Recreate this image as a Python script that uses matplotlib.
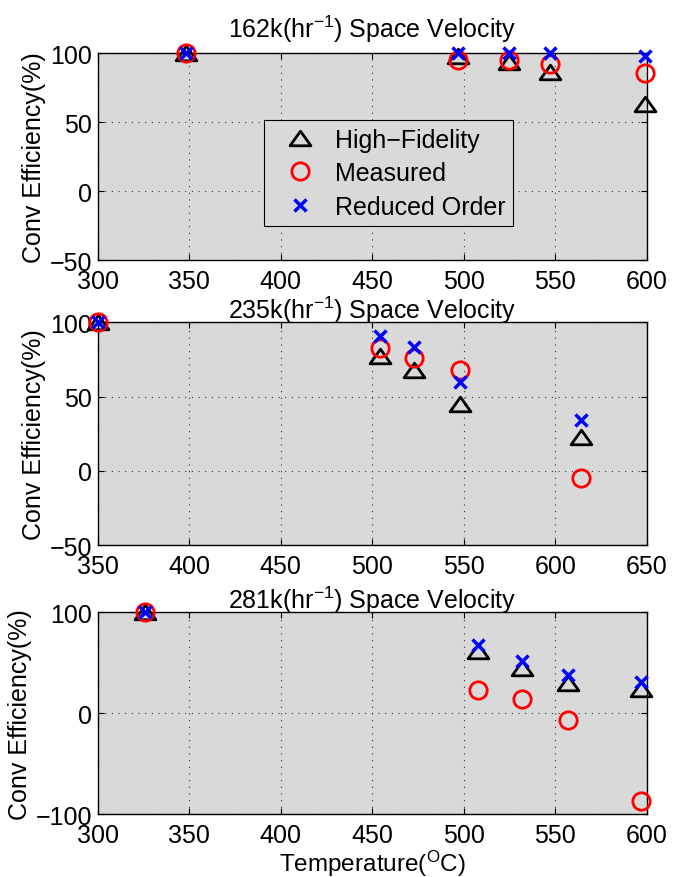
import numpy as np
import matplotlib.pyplot as plt
from matplotlib.path import Path

# ==========================================
# DATA
# ==========================================
titles = ['162k(hr$^{-1}$) Space Velocity',
          '235k(hr$^{-1}$) Space Velocity',
          '281k(hr$^{-1}$) Space Velocity']

temp_162 = [348, 497, 525, 547, 599]
hifi_162 = [100, 98, 93.5, 86.5, 63.5]
meas_162 = [100, 95.5, 95.5, 92.5, 85.5]
rom_162 = [100, 100, 100, 100, 98]

temp_235 = [350, 504, 523, 548, 614]
hifi_235 = [100, 77.5, 68, 45, 23]
meas_235 = [100, 83, 76, 68, -5]
rom_235 = [100, 91, 83.5, 60, 34]

temp_281 = [326, 508, 532, 557, 597]
hifi_281 = [100, 62, 44.5, 30, 24]
meas_281 = [100, 23, 14, -7, -87]
rom_281 = [100, 68, 52, 38, 31]

xlims = [(300, 600), (350, 650), (300, 600)]
ylims = [(-50, 100), (-50, 100), (-100, 100)]
yticks = [[-50, 0, 50, 100], [-50, 0, 50, 100], [-100, 0, 100]]

# ==========================================
# STYLE
# ==========================================
plt.rcParams['font.family'] = ['Liberation Sans', 'DejaVu Sans']
plt.rcParams['mathtext.fontset'] = 'custom'
plt.rcParams['mathtext.rm'] = 'Liberation Sans'
plt.rcParams['mathtext.it'] = 'Liberation Sans'
FS = 18

# wide MATLAB-like triangle
tri = Path([(-1, -0.7), (1, -0.7), (0, 0.7), (-1, -0.7)],
           [Path.MOVETO, Path.LINETO, Path.LINETO, Path.CLOSEPOLY])

fig = plt.figure(figsize=(6.74, 8.78), dpi=100)
positions = [[0.145, 0.7027, 0.8145, 0.2354],
             [0.145, 0.3781, 0.8145, 0.2536],
             [0.145, 0.0714, 0.8145, 0.2300]]
title_pads = [12, 3.5, 3.5]

series = [(temp_162, hifi_162, meas_162, rom_162),
          (temp_235, hifi_235, meas_235, rom_235),
          (temp_281, hifi_281, meas_281, rom_281)]

for i, (T, hf, ms, ro) in enumerate(series):
    ax = fig.add_axes(positions[i])
    ax.set_facecolor('#d9d9d9')
    ax.plot(T, hf, linestyle='none', marker=tri, markersize=15,
            markerfacecolor='none', markeredgecolor='black', mew=2,
            label='High\u2212Fidelity', clip_on=False, zorder=3)
    ax.plot(T, ms, linestyle='none', marker='o', markersize=12.5,
            markerfacecolor='none', markeredgecolor='red', mew=2,
            label='Measured', clip_on=False, zorder=4)
    ax.plot(T, ro, linestyle='none', marker='x', markersize=8.5,
            color='blue', mew=2.5, label='Reduced Order',
            clip_on=False, zorder=5)
    ax.set_xlim(*xlims[i])
    ax.set_ylim(*ylims[i])
    ax.set_xticks(np.arange(xlims[i][0], xlims[i][1] + 1, 50))
    ax.set_yticks(yticks[i])
    ax.grid(True, linestyle=(0, (1, 5)), color='0.2', linewidth=0.8)
    ax.set_axisbelow(True)
    ax.tick_params(direction='in', top=True, right=True, labelsize=FS,
                   length=4, width=0.8)
    ax.tick_params(axis='x', pad=6.5)
    ax.tick_params(axis='y', pad=4)
    for sp in ax.spines.values():
        sp.set_linewidth(1.0)
    ax.set_title(titles[i], fontsize=FS, pad=title_pads[i])
    ax.set_ylabel('Conv Efficiency(%)', fontsize=FS, labelpad=3)
    if i == 0:
        leg = ax.legend(loc='center', bbox_to_anchor=(0.53, 0.421),
                        fontsize=FS, frameon=True, fancybox=False,
                        edgecolor='black', facecolor='#d9d9d9',
                        framealpha=1, handlelength=2.3,
                        handletextpad=0.25, labelspacing=0.38,
                        borderpad=0.3, borderaxespad=0)
        leg.get_frame().set_linewidth(0.8)
    if i == 2:
        ax.set_xlabel('Temperature($^{O}$C)', fontsize=17.5, labelpad=0)

fig.savefig('out.png', dpi=100)
